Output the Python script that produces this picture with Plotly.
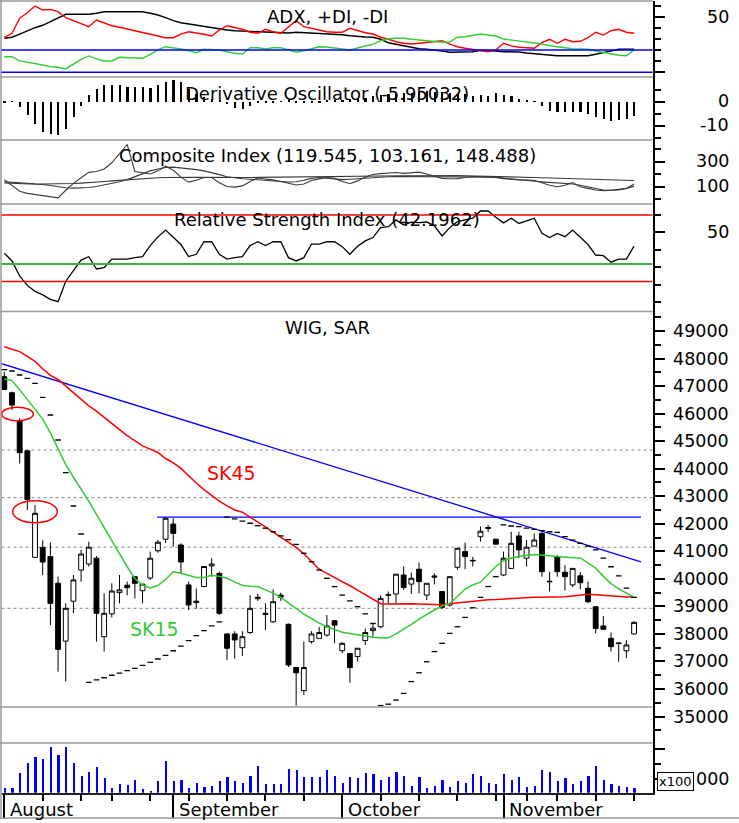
import plotly.graph_objects as go

W, H = 739, 823
FONT = "DejaVu Sans"


def fx(px):
    return px / W


def fy(py):
    return 1 - py / H


# ---------------- data (trading days 1 Aug 2011 .. 28 Nov 2011) ----------------
days = list(range(83))
month_starts = [0, 22, 44, 65]
month_names = ["August", "September", "October", "November"]
week_starts = [5, 10, 14, 19, 24, 29, 34, 39, 49, 54, 59, 64, 68, 72, 77, 82]

wig_open = [47340, 46760, 45730, 44650, 40780, 41140, 40810, 39840, 37740, 39190,
            40320, 40540, 40750, 37900, 38730, 39500, 39770, 40080, 39570, 40030,
            41020, 41440, 41990, 41230, 39780, 39190, 39720, 40470, 40200, 38000,
            38000, 37500, 38050, 39280, 38750, 38440, 39410, 38350, 36780, 35940,
            37720, 37840, 37960, 38480, 37390, 37290, 37180, 37760, 38120, 38260,
            39400, 39450, 40140, 39810, 40350, 39410, 40060, 39540, 39050, 40420,
            40990, 40650, 41530, 41830, 41440, 40140, 40380, 41560, 40750, 41190,
            41650, 39890, 40810, 40240, 39780, 40110, 39660, 38990, 38290, 37840,
            37650, 37390, 38000]
wig_high = [47520, 46800, 45830, 44680, 42680, 41400, 41320, 40080, 39110, 40140,
            41050, 41350, 40830, 39470, 39840, 40140, 39900, 40080, 39810, 40990,
            41410, 42240, 42200, 41290, 39900, 39650, 40450, 40750, 40260, 38020,
            38100, 38100, 39410, 39450, 39110, 39620, 39500, 38380, 36780, 37720,
            38100, 38250, 38690, 38480, 37700, 37290, 37480, 38200, 38400, 39400,
            39540, 40170, 40450, 40230, 40590, 39840, 40200, 39560, 40080, 41110,
            41320, 40800, 41900, 41950, 41460, 40990, 41710, 41710, 41410, 41650,
            41700, 40260, 40860, 40500, 40380, 40250, 39900, 38990, 38650, 38050,
            37680, 37780, 38460]
wig_low = [46850, 46130, 44190, 42500, 40780, 40140, 38320, 36630, 36270, 38750,
           39900, 40450, 37720, 37360, 38600, 39110, 39400, 39290, 39110, 39960,
           40950, 41300, 41170, 40200, 38870, 38920, 39700, 40080, 38690, 37050,
           37100, 37200, 38000, 39200, 38140, 38400, 39200, 36800, 35400, 35780,
           37650, 37840, 37900, 37660, 37300, 36230, 37000, 37600, 37900, 38200,
           39110, 39130, 39600, 39450, 39470, 39230, 39800, 38900, 38990, 40330,
           40350, 40450, 41350, 41700, 41250, 40100, 40380, 40750, 40450, 41190,
           40080, 39540, 40080, 39570, 39700, 39620, 39120, 38020, 38150, 37360,
           36990, 37120, 37980]
wig_close = [46880, 46310, 44580, 42880, 42380, 40610, 39110, 37440, 38930, 39960,
             40900, 41150, 38750, 38750, 39560, 39600, 39680, 39840, 39810, 40750,
             41330, 42200, 41650, 40610, 39050, 39140, 40450, 40540, 38750, 37480,
             37780, 37900, 38930, 39330, 38710, 39170, 39330, 36870, 36590, 36780,
             38000, 38050, 38290, 38320, 37660, 36780, 37480, 38050, 38210, 39290,
             39420, 40170, 39690, 40020, 39900, 39840, 40100, 38960, 40080, 41110,
             40810, 40670, 41730, 41860, 41260, 40750, 41290, 41050, 41150, 41410,
             40260, 39910, 40260, 40080, 40380, 39860, 39170, 38200, 38170, 37540,
             37670, 37600, 38420]

sk15 = [47260, 47200, 46870, 46520, 46170, 45800, 45300, 44710, 44150, 43690,
        43270, 42820, 42340, 41860, 41370, 40900, 40440, 40010, 39770, 39670,
        39760, 39980, 40260, 40200, 40130, 40050, 40050, 40130, 40090, 40020,
        39880, 39770, 39730, 39720, 39600, 39480, 39330, 39120, 38910, 38720,
        38560, 38390, 38260, 38150, 38060, 38020, 37970, 37920, 37880, 37850,
        37860, 38000, 38160, 38350, 38540, 38710, 38870, 39010, 39110, 39360,
        39630, 39780, 39880, 40170, 40450, 40660, 40760, 40810, 40860, 40880,
        40870, 40840, 40810, 40780, 40770, 40760, 40590, 40390, 40090, 39830,
        39640, 39480, 39330]
sk45 = [48430, 48340, 48250, 48080, 47900, 47630, 47390, 47240, 47000, 46770,
        46520, 46280, 46090, 45860, 45620, 45420, 45200, 45010, 44830, 44710,
        44590, 44370, 44210, 44010, 43730, 43480, 43240, 43030, 42820, 42650,
        42500, 42420, 42250, 42070, 41890, 41700, 41510, 41320, 41140, 40910,
        40630, 40350, 40200, 40060, 39910, 39750, 39590, 39420, 39250, 39100,
        39090, 39100, 39110, 39100, 39090, 39080, 39060, 39060, 39100, 39130,
        39160, 39190, 39220, 39240, 39250, 39270, 39290, 39310, 39330, 39330,
        39330, 39330, 39330, 39350, 39380, 39410, 39440, 39420, 39400, 39370,
        39340, 39340, 39350]
sar = [47600, 47548, 47402, 47282, 47100, 46593, 45950, 45042, 43855, 42646,
       41629, 36240, 36330, 36410, 36500, 36580, 36670, 36750, 36860, 36970,
       37090, 37220, 37390, 37560, 37760, 37940, 38120, 38290, 38440, 42240,
       42180, 42100, 42020, 41930, 41840, 41710, 41560, 41420, 41250, 40930,
       40620, 40320, 40020, 39720, 39410, 39200, 38990, 38730, 38380, 35400,
       35450, 35600, 35840, 36270, 36590, 36990, 37360, 37660, 38020, 38260,
       38600, 38950, 39330, 39720, 40080, 41960, 41920, 41900, 41840, 41800,
       41750, 41710, 41690, 41530, 41410, 41290, 41190, 41050, 40750, 40440,
       40110, 39660, 39330]
fib_levels = [44680, 42950, 41150, 38930]
trend_x = [-0.56, 82.9]
trend_y = [47830, 40620]
resist_x = [19.9, 82.9]
resist_y = [42240, 42240]

volume = [6950, 6950, 11940, 15270, 17500, 16740, 20840, 18070, 20840, 15270,
          11170, 12500, 13940, 10270, 6950, 8400, 8070, 9730, 6600, 6000,
          9270, 16170, 9270, 9730, 6950, 8830, 7500, 7930, 9270, 10730,
          9270, 8830, 11170, 14400, 8400, 8400, 8400, 13500, 13070, 10730,
          10730, 10730, 13070, 11170, 8830, 10730, 10270, 12070, 11600, 9730,
          10730, 12500, 11170, 7930, 10730, 6950, 7930, 9730, 7500, 9270,
          8830, 11600, 11170, 8830, 8400, 11600, 9730, 10730, 7500, 7930,
          13070, 12500, 9270, 10270, 8400, 9270, 11170, 14400, 9730, 8400,
          7930, 7500, 6950]

adx = [30.6, 31.5, 34.4, 37.4, 40.1, 42.3, 45.5, 48.6, 52.2, 52.2,
       52.2, 52.2, 53.1, 54.5, 54.5, 54.5, 54.5, 54.5, 54.5, 53.1,
       51.5, 49.1, 46.4, 44.6, 43.4, 42.3, 41.0, 39.8, 38.7, 38.0,
       37.4, 37.1, 36.5, 36.0, 35.6, 35.3, 35.1, 35.3, 36.0, 35.6,
       35.3, 35.1, 34.7, 34.4, 33.8, 32.9, 32.0, 31.7, 31.5, 29.7,
       26.6, 25.4, 23.7, 22.8, 21.2, 20.7, 20.1, 19.2, 18.0, 18.0,
       18.0, 18.5, 19.8, 19.8, 19.2, 18.5, 18.5, 18.3, 17.4, 16.7,
       16.2, 15.6, 14.9, 14.9, 14.9, 14.9, 14.9, 16.2, 17.6, 19.2,
       20.7, 20.7, 20.7]
minus_di = [31.5, 35.1, 48.6, 53.6, 59.6, 56.0, 56.6, 54.5, 49.1, 46.4,
            44.1, 41.0, 47.0, 44.1, 41.9, 40.5, 38.9, 37.1, 36.0, 34.2,
            32.9, 31.1, 31.1, 34.4, 36.5, 35.6, 34.2, 32.6, 38.0, 41.9,
            40.5, 38.7, 36.0, 35.1, 38.7, 36.5, 35.1, 40.5, 46.4, 41.0,
            39.6, 38.0, 36.5, 36.0, 36.0, 39.6, 37.4, 35.6, 34.4, 31.5,
            29.9, 27.5, 26.1, 25.4, 26.1, 27.0, 27.5, 28.4, 25.4, 23.0,
            21.6, 20.7, 19.4, 18.5, 20.1, 26.1, 23.7, 22.5, 22.1, 21.6,
            26.6, 29.7, 26.1, 29.7, 27.5, 27.9, 31.1, 36.0, 33.5, 37.4,
            38.7, 36.0, 35.1]
plus_di = [14.0, 14.0, 10.2, 9.0, 8.1, 6.6, 5.0, 4.5, 3.0, 7.5,
           11.7, 14.7, 12.0, 10.2, 10.2, 13.5, 13.1, 12.6, 12.6, 16.2,
           20.1, 23.0, 22.1, 21.0, 19.4, 17.6, 20.7, 20.7, 20.1, 18.5,
           17.1, 16.5, 22.1, 22.1, 21.0, 22.1, 22.1, 20.1, 18.0, 19.4,
           21.0, 23.0, 22.8, 22.1, 21.2, 20.1, 21.9, 23.7, 25.2, 28.4,
           30.2, 30.6, 30.6, 29.7, 29.0, 28.4, 27.5, 27.0, 27.2, 31.5,
           32.0, 33.5, 34.4, 33.5, 32.6, 29.9, 29.0, 28.4, 27.2, 26.6,
           25.4, 23.9, 23.0, 21.9, 21.2, 21.0, 20.7, 19.2, 18.0, 16.5,
           15.3, 14.9, 20.1]
adx_levels = [20, 0]

deriv_osc = [-0.3, -0.2, -2.4, -5.8, -9.3, -12.8, -13.5, -13.9, -11.4, -6.5,
             -1.7, 2.8, 5.3, 6.7, 6.7, 6.7, 6.0, 6.0, 6.0, 5.6,
             6.7, 8.3, 8.8, 8.1, 5.3, 3.0, 2.0, 1.0, 0.3, -1.2,
             -2.8, -3.3, -1.7, -0.5, -0.3, -0.3, 0.2, 0.3, -0.3, -0.5,
             -0.6, -0.3, 0.3, 0.5, 0.8, 1.0, 1.2, 1.6, 2.2, 2.6,
             3.0, 3.2, 3.4, 3.6, 3.9, 4.2, 4.0, 3.8, 3.5, 3.2,
             3.0, 2.5, 2.8, 2.5, 3.6, 2.8, 2.2, 1.1, 0.3, 0.2,
             -1.7, -3.8, -4.2, -4.2, -4.2, -4.4, -5.1, -6.5, -7.2, -8.3,
             -7.9, -7.2, -5.95]

ci = [155, 110, 62, 45, 35, 28, 18, 9, 70, 125,
      170, 213, 220, 240, 290, 360, 436, 220, 208, 200,
      225, 262, 230, 175, 135, 150, 172, 172, 130, 100,
      95, 105, 140, 168, 160, 153, 140, 125, 112, 120,
      148, 161, 172, 165, 140, 122, 145, 175, 196, 203,
      210, 212, 205, 207, 215, 200, 182, 165, 162, 163,
      172, 180, 178, 176, 172, 163, 155, 153, 152, 150,
      130, 110, 98, 110, 132, 98, 85, 72, 67, 68,
      72, 85, 119.5]
ci_fast = [128, 126, 124, 122, 120, 116, 108, 98, 90, 87,
           88, 92, 100, 112, 122, 138, 155, 180, 205, 225,
           240, 252, 255, 250, 243, 235, 225, 212, 195, 178,
           168, 162, 158, 152, 148, 145, 140, 136, 138, 150,
           165, 172, 168, 160, 155, 158, 163, 168, 172, 176,
           178, 180, 180, 178, 176, 175, 175, 176, 177, 178,
           180, 181, 180, 178, 175, 168, 160, 153, 148, 142,
           137, 133, 129, 126, 120, 110, 98, 85, 72, 70,
           75, 85, 103.2]
ci_slow = [137, 132, 128, 125, 122, 120, 120, 121, 122, 124,
           127, 130, 135, 140, 145, 150, 155, 160, 165, 168,
           170, 172, 174, 175, 175, 174, 173, 172, 171, 170,
           170, 171, 172, 173, 174, 175, 176, 176, 177, 177,
           178, 178, 178, 179, 179, 180, 180, 181, 182, 183,
           184, 185, 186, 186, 187, 187, 188, 188, 188, 187,
           186, 185, 184, 183, 182, 180, 178, 176, 174, 172,
           170, 168, 166, 164, 162, 160, 158, 157, 156, 155,
           153, 151, 148.5]

rsi = [38.2, 33.7, 25.1, 19.7, 16.3, 14.3, 11.7, 10.4, 22.1, 28.5,
       34.2, 36.1, 29.1, 29.8, 34.8, 34.8, 34.8, 35.6, 36.2, 42.5,
       47.5, 51.4, 47.5, 43.1, 36.2, 37.5, 44.7, 44.7, 37.5, 34.8,
       35.6, 36.2, 42.5, 44.7, 42.5, 44.7, 44.7, 35.6, 33.7, 35.6,
       43.3, 43.3, 44.7, 44.7, 41.9, 37.5, 42.1, 45.2, 47.1, 52.8,
       53.3, 57.2, 54.3, 55.9, 55.7, 56.0, 53.8, 48.0, 52.8, 56.2,
       57.2, 58.2, 62.3, 62.3, 58.7, 55.5, 58.2, 55.2, 56.7, 58.2,
       49.5, 47.1, 49.5, 47.6, 51.4, 47.5, 43.1, 37.1, 36.7, 33.0,
       34.8, 34.8, 42.2]
rsi_high_low = [60, 22]
rsi_mid = 32

main_major = list(range(35000, 50000, 1000))
main_minor = list(range(34500, 50000, 1000))
main_labels = [str(v) for v in range(35000, 50000, 1000)]

# ---------------- colours ----------------
RED = "#FF0000"
GREEN = "#33CC33"
BLUE = "#0000FF"
GRAY = "#999999"

fig = go.Figure()

# ADX panel
fig.add_trace(go.Scatter(x=days, y=adx, mode="lines", line=dict(color="black", width=1.4), yaxis="y"))
fig.add_trace(go.Scatter(x=days, y=minus_di, mode="lines", line=dict(color=RED, width=1.4), yaxis="y"))
fig.add_trace(go.Scatter(x=days, y=plus_di, mode="lines", line=dict(color=GREEN, width=1.4), yaxis="y"))

# Derivative oscillator
fig.add_trace(go.Bar(x=days, y=deriv_osc, width=0.22, marker=dict(color="black", line=dict(width=0)), yaxis="y2"))

# Composite index
for series in (ci_slow, ci_fast, ci):
    fig.add_trace(go.Scatter(x=days, y=series, mode="lines", line=dict(color="#3a3a3a", width=1.1), yaxis="y3"))

# RSI
fig.add_trace(go.Scatter(x=days, y=rsi, mode="lines", line=dict(color="black", width=1.3), yaxis="y4"))

# Main panel
fig.add_trace(go.Scatter(x=trend_x, y=trend_y, mode="lines", line=dict(color=BLUE, width=1.3), yaxis="y5"))
fig.add_trace(go.Scatter(x=resist_x, y=resist_y, mode="lines", line=dict(color=BLUE, width=1.3), yaxis="y5"))
fig.add_trace(go.Scatter(x=days, y=sk45, mode="lines", line=dict(color=RED, width=1.5), yaxis="y5"))
fig.add_trace(go.Scatter(x=days, y=sk15, mode="lines", line=dict(color=GREEN, width=1.5), yaxis="y5"))
fig.add_trace(go.Scatter(x=days, y=sar, mode="markers",
                         marker=dict(symbol="line-ew", size=4, color="black", line=dict(color="black", width=1.3)),
                         yaxis="y5"))
fig.add_trace(go.Candlestick(x=days, open=wig_open, high=wig_high, low=wig_low, close=wig_close,
                             increasing=dict(line=dict(color="black", width=1), fillcolor="white"),
                             decreasing=dict(line=dict(color="black", width=1), fillcolor="black"),
                             whiskerwidth=0, yaxis="y5"))

# Volume
fig.add_trace(go.Bar(x=days, y=volume, width=0.28, marker=dict(color=BLUE, line=dict(width=0)), yaxis="y6"))


def yax(top, bot, rng, major, minor):
    return dict(domain=[fy(bot), fy(top)], range=rng, anchor="x", side="right",
                showline=True, linecolor="black", linewidth=1.5, showgrid=False, zeroline=False,
                ticks="outside", tickmode="array", tickvals=major, ticklen=11, tickwidth=1.5,
                tickcolor="black", showticklabels=False, fixedrange=True,
                minor=dict(tickmode="array", tickvals=minor, ticklen=7, tickwidth=1.5,
                           tickcolor="black", ticks="outside", showgrid=False))


layout_axes = dict(
    xaxis=dict(domain=[fx(1.5), fx(652.5)], range=[-0.365, 84.4], anchor="y6",
               showline=True, linecolor="#222222", linewidth=1.5, showgrid=False, zeroline=False,
               ticks="outside", tickmode="array", tickvals=month_starts, ticklen=25, tickwidth=2,
               tickcolor="black", showticklabels=False, rangeslider=dict(visible=False), fixedrange=True,
               minor=dict(tickmode="array", tickvals=week_starts, ticklen=7, tickwidth=2,
                          tickcolor="black", ticks="outside", showgrid=False)),
    yaxis=yax(1, 77, [-4.23, 64.12], [0, 50], [10, 20, 30, 40, 60]),
    yaxis2=yax(77, 140, [-16.04, 10.21], [0, -10], [5, -5, -15]),
    yaxis3=yax(140, 204, [-40, 472], [100, 300], [0, 200, 400]),
    yaxis4=yax(204, 311.5, [4.75, 66.32], [50], [10, 20, 30, 40, 60]),
    yaxis5=yax(311.5, 743, [34040, 49708], main_major, main_minor),
    yaxis6=yax(743, 792.7, [5530, 22100], [10000, 20000], [15000]),
)

shapes = []
# panel separators & frame
for py in [77, 140, 204, 311.5, 707, 743]:
    shapes.append(dict(type="line", xref="paper", yref="paper", x0=fx(0), x1=fx(652.5), y0=fy(py), y1=fy(py),
                       line=dict(color=GRAY, width=1.5)))
shapes.append(dict(type="line", xref="paper", yref="paper", x0=0, x1=fx(652.5), y0=fy(1), y1=fy(1),
                   line=dict(color=GRAY, width=1.5)))
shapes.append(dict(type="line", xref="paper", yref="paper", x0=fx(1), x1=fx(1), y0=fy(818), y1=fy(0),
                   line=dict(color=GRAY, width=1.5)))
shapes.append(dict(type="line", xref="paper", yref="paper", x0=0, x1=1, y0=fy(818), y1=fy(818),
                   line=dict(color=GRAY, width=1.5)))
# ADX reference lines
for lv in adx_levels:
    shapes.append(dict(type="line", xref="x domain", yref="y", x0=0, x1=1, y0=lv, y1=lv,
                       line=dict(color=BLUE, width=1.5)))
# RSI reference lines
for lv in rsi_high_low:
    shapes.append(dict(type="line", xref="x domain", yref="y4", x0=0, x1=1, y0=lv, y1=lv,
                       line=dict(color=RED, width=1.5)))
shapes.append(dict(type="line", xref="x domain", yref="y4", x0=0, x1=1, y0=rsi_mid, y1=rsi_mid,
                   line=dict(color="#3CB043", width=2)))
# dotted levels in main panel
for lv in fib_levels:
    shapes.append(dict(type="line", xref="x domain", yref="y5", x0=0, x1=1, y0=lv, y1=lv,
                       line=dict(color="#888888", width=1, dash="dot"), layer="below"))
# red ellipses
shapes.append(dict(type="circle", xref="x", yref="y5", x0=-0.34, x1=3.78, y0=45743, y1=46230,
                   line=dict(color=RED, width=1.5)))
shapes.append(dict(type="circle", xref="x", yref="y5", x0=1.09, x1=6.9, y0=42039, y1=42838,
                   line=dict(color=RED, width=1.5)))

ann = []


def tick_label(text, yref, val):
    ann.append(dict(text=text, x=fx(731), xref="paper", xanchor="right", y=val, yref=yref,
                    yanchor="middle", showarrow=False, font=dict(family=FONT, size=17.5, color="black")))


tick_label("50", "y", 50)
tick_label("0", "y2", 0)
tick_label("-10", "y2", -10)
tick_label("300", "y3", 300)
tick_label("100", "y3", 100)
tick_label("50", "y4", 50)
for v, t in zip(main_major, main_labels):
    tick_label(t, "y5", v)
# volume axis label: only the trailing "000" is visible next to the x100 box
tick_label("000", "y6", 10000)
ann.append(dict(text="x100", x=fx(675.5), xref="paper", y=fy(781.7), yref="paper", xanchor="center",
                yanchor="middle", showarrow=False, bgcolor="white", bordercolor="black", borderwidth=1,
                borderpad=1, font=dict(family=FONT, size=13, color="black")))

titles = [("ADX, +DI, -DI", 16.3), ("Derivative Oscillator (-5.95032)", 93),
          ("Composite Index (119.545, 103.161, 148.488)", 155.8),
          ("Relative Strength Index (42.1962)", 219.5), ("WIG, SAR", 327.8)]
for t, py in titles:
    ann.append(dict(text=t, x=fx(327), xref="paper", y=fy(py), yref="paper", xanchor="center",
                    yanchor="middle", showarrow=False, font=dict(family=FONT, size=18, color="black")))

for m, name in zip(month_starts, month_names):
    ann.append(dict(text=name, x=m + 0.45, xref="x", y=fy(809), yref="paper", xanchor="left",
                    yanchor="middle", showarrow=False, font=dict(family=FONT, size=18, color="black")))

ann.append(dict(text="SK45", x=26.1, xref="x", y=43830, yref="y5", xanchor="left", yanchor="middle",
                showarrow=False, font=dict(family=FONT, size=19, color=RED)))
ann.append(dict(text="SK15", x=16.15, xref="x", y=38180, yref="y5", xanchor="left", yanchor="middle",
                showarrow=False, font=dict(family=FONT, size=19, color=GREEN)))

fig.update_layout(
    width=W, height=H, margin=dict(l=0, r=0, t=0, b=0, pad=0),
    plot_bgcolor="white", paper_bgcolor="white", showlegend=False,
    boxgap=0.1, bargap=0, shapes=shapes, annotations=ann,
    font=dict(family=FONT, color="black"),
    **layout_axes,
)

fig.write_html("out.html")
